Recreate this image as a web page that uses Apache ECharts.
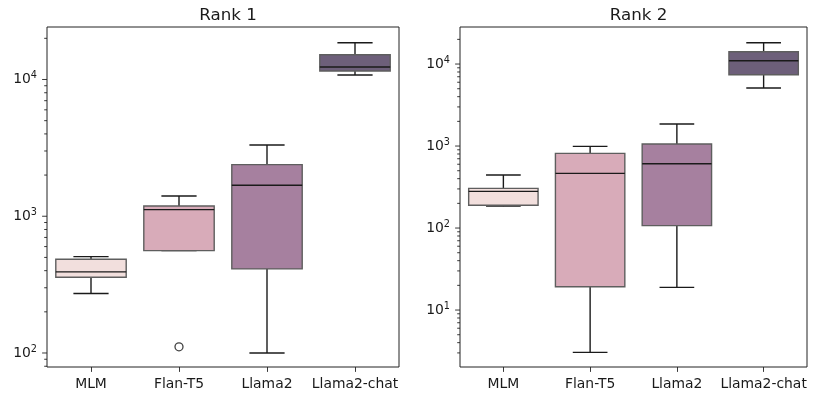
<!DOCTYPE html>
<html>
<head>
<meta charset="utf-8">
<script src="https://cdn.jsdelivr.net/npm/echarts@6/dist/echarts.min.js"></script>
<style>
html,body{margin:0;padding:0;background:#fff;}
#c{width:813px;height:397px;}
</style>
</head>
<body>
<div id="c"></div>
<script>
// ---- data ----
var categories = ['MLM', 'Flan-T5', 'Llama2', 'Llama2-chat'];
var titles = ['Rank 1', 'Rank 2'];

var rank1Low  = [272, 561, 100, 10780];
var rank1Q1   = [358, 561, 412, 11540];
var rank1Med  = [392, 1117, 1686, 12340];
var rank1Q3   = [485, 1189, 2383, 15180];
var rank1High = [507, 1407, 3320, 18580];
var rank1Outliers = [[1, 111]];

var rank2Low  = [185, 3.05, 18.9, 5100];
var rank2Q1   = [190, 19.2, 107, 7410];
var rank2Med  = [280, 464, 608, 10970];
var rank2Q3   = [305, 815, 1058, 14130];
var rank2High = [443, 990, 1855, 18200];
var rank2Outliers = [];

var rank1Range = [79, 24200];
var rank2Range = [2.02, 28300];

var rank1MajorTicks = [100, 1000, 10000];
var rank1MinorTicks = [80, 90, 200, 300, 400, 500, 600, 700, 800, 900,
  2000, 3000, 4000, 5000, 6000, 7000, 8000, 9000, 20000];
var rank2MajorTicks = [10, 100, 1000, 10000];
var rank2MinorTicks = [3, 4, 5, 6, 7, 8, 9, 20, 30, 40, 50, 60, 70, 80, 90,
  200, 300, 400, 500, 600, 700, 800, 900, 2000, 3000, 4000, 5000, 6000, 7000, 8000, 9000, 20000];

var colors = ['#f2dfdd', '#d8abb9', '#a6809f', '#6d5f7a'];

// ---- build ----
var FONT = 'DejaVu Sans';
var chart = echarts.init(document.getElementById('c'), null, {renderer: 'canvas'});

function boxData(low, q1, med, q3, high) {
  return categories.map(function (c, i) {
    return [i, low[i], q1[i], med[i], q3[i], high[i]];
  });
}

function renderBox(params, api) {
  var i = api.value(0);
  var cs = params.coordSys;
  var band = cs.width / categories.length;
  var cx = api.coord([i, api.value(3)])[0];
  var yLow = api.coord([i, api.value(1)])[1];
  var yQ1 = api.coord([i, api.value(2)])[1];
  var yMed = api.coord([i, api.value(3)])[1];
  var yQ3 = api.coord([i, api.value(4)])[1];
  var yHigh = api.coord([i, api.value(5)])[1];
  var bw = band * 0.8;
  var cw = band * 0.4;
  var wStyle = {stroke: '#1a1a1a', lineWidth: 1.4};
  return {
    type: 'group',
    children: [
      {type: 'line', shape: {x1: cx, y1: yQ1, x2: cx, y2: yLow}, style: wStyle},
      {type: 'line', shape: {x1: cx, y1: yQ3, x2: cx, y2: yHigh}, style: wStyle},
      {type: 'line', shape: {x1: cx - cw / 2, y1: yLow, x2: cx + cw / 2, y2: yLow}, style: wStyle},
      {type: 'line', shape: {x1: cx - cw / 2, y1: yHigh, x2: cx + cw / 2, y2: yHigh}, style: wStyle},
      {type: 'rect', shape: {x: cx - bw / 2, y: yQ3, width: bw, height: yQ1 - yQ3},
        style: {fill: colors[i], stroke: '#5e5e5e', lineWidth: 1.4}},
      {type: 'line', shape: {x1: cx - bw / 2, y1: yMed, x2: cx + bw / 2, y2: yMed}, style: wStyle}
    ]
  };
}

function tickRenderer(len) {
  return function (params, api) {
    var cs = params.coordSys;
    var y = api.coord([0, api.value(1)])[1];
    return {type: 'line', shape: {x1: cs.x - len, y1: y, x2: cs.x, y2: y},
      style: {stroke: '#222', lineWidth: 0.9}};
  };
}

function tickData(arr) { return arr.map(function (v) { return [0, v]; }); }

function isPow10(v) {
  var l = Math.log10(v);
  return Math.abs(l - Math.round(l)) < 1e-6;
}

var grids = [
  {left: 47, right: 414, top: 27, bottom: 30},
  {left: 460, right: 6, top: 27, bottom: 30}
];
var ranges = [rank1Range, rank2Range];

var xAxes = grids.map(function (g, k) {
  return {
    type: 'category', gridIndex: k, data: categories, boundaryGap: true,
    axisLine: {show: false},
    axisTick: {show: true, alignWithLabel: true, length: 4.9, lineStyle: {color: '#222', width: 0.9}},
    axisLabel: {color: '#1a1a1a', fontFamily: FONT, fontSize: 13.9, margin: 10, interval: 0},
    splitLine: {show: false}
  };
});
var yAxes = grids.map(function (g, k) {
  return {
    type: 'log', logBase: 10, gridIndex: k, min: ranges[k][0], max: ranges[k][1],
    axisLine: {show: false}, axisTick: {show: false}, splitLine: {show: false},
    minorTick: {show: false},
    axisLabel: {
      showMinLabel: true, showMaxLabel: true, margin: 10,
      formatter: function (v) {
        if (!isPow10(v)) return '';
        return '{b|10}{s|' + Math.round(Math.log10(v)) + '}';
      },
      rich: {
        b: {fontFamily: FONT, fontSize: 13.9, color: '#1a1a1a', lineHeight: 18, verticalAlign: 'middle'},
        s: {fontFamily: FONT, fontSize: 9.7, color: '#1a1a1a', lineHeight: 10, verticalAlign: 'top'}
      }
    }
  };
});

var series = [];
var boxes = [boxData(rank1Low, rank1Q1, rank1Med, rank1Q3, rank1High),
             boxData(rank2Low, rank2Q1, rank2Med, rank2Q3, rank2High)];
var outliers = [rank1Outliers, rank2Outliers];
var majors = [rank1MajorTicks, rank2MajorTicks];
var minors = [rank1MinorTicks, rank2MinorTicks];
for (var k = 0; k < 2; k++) {
  series.push({
    type: 'custom', xAxisIndex: k, yAxisIndex: k, renderItem: renderBox,
    data: boxes[k], encode: {x: 0, y: [1, 2, 3, 4, 5]}, silent: true, animation: false, z: 2
  });
  series.push({
    type: 'scatter', xAxisIndex: k, yAxisIndex: k, data: outliers[k], symbol: 'circle', symbolSize: 8,
    itemStyle: {color: 'rgba(0,0,0,0)', borderColor: '#111', borderWidth: 1.3}, silent: true, animation: false, z: 3
  });
  series.push({
    type: 'custom', xAxisIndex: k, yAxisIndex: k, renderItem: tickRenderer(4.9),
    data: tickData(majors[k]), encode: {x: 0, y: 1}, silent: true, animation: false, clip: false
  });
  series.push({
    type: 'custom', xAxisIndex: k, yAxisIndex: k, renderItem: tickRenderer(2.8),
    data: tickData(minors[k]), encode: {x: 0, y: 1}, silent: true, animation: false, clip: false
  });
}

var option = {
  backgroundColor: '#fff',
  animation: false,
  title: titles.map(function (t, k) {
    var g = grids[k];
    var cx = (g.left + (813 - g.right)) / 2;
    return {text: t, left: cx, top: 2, textAlign: 'center',
      textStyle: {fontFamily: FONT, fontSize: 16.7, fontWeight: 'normal', color: '#1a1a1a'}};
  }),
  grid: grids.map(function (g) {
    return {left: g.left, right: g.right, top: g.top, bottom: g.bottom, show: true,
      borderColor: '#222', borderWidth: 1, backgroundColor: 'transparent', containLabel: false};
  }),
  xAxis: xAxes,
  yAxis: yAxes,
  series: series
};
chart.setOption(option);
</script>
</body>
</html>
